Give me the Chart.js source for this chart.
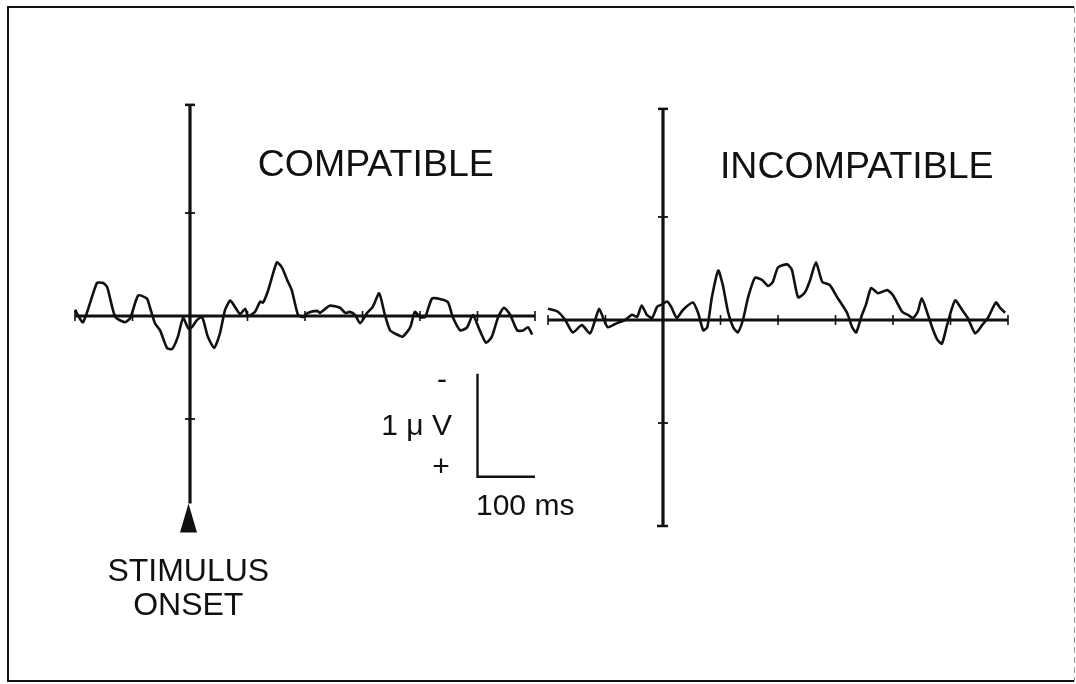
<!DOCTYPE html>
<html>
<head>
<meta charset="utf-8">
<title>ERP: compatible vs incompatible</title>
<script src="https://cdn.jsdelivr.net/npm/chart.js@4.4.1/dist/chart.umd.min.js"></script>
<style>
  html, body { margin: 0; padding: 0; background: #ffffff; }
  #wrap { width: 1076px; height: 684px; position: relative; }
  canvas { display: block; }
</style>
</head>
<body>
<div id="wrap"><canvas id="erp" width="1076" height="684"></canvas></div>
<script>
// Averaged waveforms, time in ms relative to stimulus onset, amplitude in µV (negative plotted up)
const compatibleTimes = [-200, -186, -162, -151, -144, -130, -113, -104, -90, -75, -70, -61, -52, -40, -31, -21, -12, -3, 3, 12, 21, 31, 42, 52, 61, 70, 78, 87, 96, 101, 113, 122, 127, 136, 151, 160, 169, 177, 188, 197, 205, 221, 226, 243, 261, 270, 278, 287, 296, 308, 318, 329, 339, 348, 360, 370, 383, 391, 400, 409, 421, 438, 449, 457, 470, 482, 492, 504, 515, 525, 536, 546, 557, 569, 579, 588, 595];
const compatibleValues = [-0.06, 0.06, -0.32, -0.32, -0.28, 0.01, 0.06, 0.02, -0.20, -0.17, -0.09, 0.07, 0.14, 0.31, 0.32, 0.20, 0.02, 0.12, 0.11, 0.04, 0.01, 0.20, 0.31, 0.17, -0.06, -0.15, -0.09, -0.02, -0.07, 0.00, -0.04, -0.14, -0.13, -0.25, -0.52, -0.47, -0.35, -0.25, -0.01, 0.01, -0.03, -0.05, -0.03, -0.10, -0.08, -0.03, -0.04, -0.01, 0.07, -0.03, -0.09, -0.22, -0.01, 0.14, 0.18, 0.20, 0.11, -0.04, 0.01, 0.01, -0.17, -0.16, -0.13, 0.01, 0.14, 0.11, -0.01, 0.14, 0.26, 0.20, 0.01, -0.08, -0.01, 0.14, 0.14, 0.11, 0.18];

const incompatibleTimes = [-200, -183, -170, -157, -141, -127, -118, -111, -104, -96, -80, -66, -54, -45, -37, -28, -19, -10, -2, 7, 14, 24, 35, 52, 61, 70, 77, 85, 96, 104, 113, 122, 130, 139, 148, 160, 172, 183, 191, 200, 216, 224, 235, 247, 256, 266, 277, 290, 303, 320, 329, 336, 346, 353, 362, 374, 390, 400, 416, 426, 435, 443, 450, 459, 468, 477, 485, 494, 508, 520, 530, 543, 555, 565, 579, 586, 595];
const incompatibleValues = [-0.11, -0.08, 0.00, 0.12, 0.05, 0.13, 0.00, -0.11, -0.02, 0.07, 0.03, 0.00, -0.05, -0.03, -0.14, -0.05, -0.02, -0.13, -0.15, -0.18, -0.13, -0.02, -0.10, -0.17, -0.07, 0.10, 0.07, -0.22, -0.48, -0.34, -0.08, 0.07, 0.12, 0.00, -0.22, -0.41, -0.39, -0.33, -0.37, -0.51, -0.54, -0.49, -0.22, -0.27, -0.39, -0.56, -0.37, -0.34, -0.22, -0.07, 0.07, 0.12, -0.05, -0.15, -0.31, -0.26, -0.29, -0.24, -0.08, -0.05, -0.02, -0.08, -0.21, -0.08, 0.07, 0.19, 0.23, 0.05, -0.19, -0.10, -0.02, 0.13, 0.05, -0.02, -0.17, -0.12, -0.07];

// Epoch and axis extents
const epochStart = -200;
const epochEnd = 600;
const timeTicks = [-100, 100, 200, 300, 400, 500];
const voltTicks = [-1, 1];

// Panel titles and annotation text
const panelTitles = ['COMPATIBLE', 'INCOMPATIBLE'];
const onsetLabel = ['STIMULUS', 'ONSET'];
const scaleBarLabels = { neg: '-', amp: '1 \u03BC V', pos: '+', time: '100 ms' };

const W = 1076, H = 684;
const pxPerMs = 0.575;     // horizontal scale
const pxPerUv = 103;       // vertical scale
const zeroL = 190, zeroR = 663;   // onset positions of the two panels
const baseL = 316, baseR = 320;   // baselines of the two panels

const toPoints = (ts, vs) => ts.map((t, i) => ({ x: t, y: vs[i] }));

const INK = '#111111';
const FONT = '"Liberation Sans", Arial, Helvetica, sans-serif';

const erpAxes = {
  id: 'erpAxes',
  beforeDatasetsDraw(chart) {
    const ctx = chart.ctx;
    const s = chart.scales;
    ctx.save();

    // outer frame
    ctx.strokeStyle = INK;
    ctx.lineWidth = 2;
    ctx.beginPath();
    ctx.moveTo(1074, 7); ctx.lineTo(8, 7); ctx.lineTo(8, 681); ctx.lineTo(1074, 681);
    ctx.stroke();
    ctx.strokeStyle = '#9a9a9a';
    ctx.lineWidth = 1;
    ctx.setLineDash([6, 4]);
    ctx.beginPath(); ctx.moveTo(1074.5, 7); ctx.lineTo(1074.5, 681); ctx.stroke();
    ctx.setLineDash([]);

    const panels = [
      { x: s.xL, y: s.yL, bottom: 1.82, arrow: true },
      { x: s.xR, y: s.yR, bottom: 2.0, arrow: false }
    ];
    panels.forEach(p => {
      const y0 = p.y.getPixelForValue(0);
      const x0 = p.x.getPixelForValue(0);
      ctx.strokeStyle = INK;
      ctx.fillStyle = INK;

      // time axis
      ctx.lineWidth = 2.8;
      ctx.beginPath();
      ctx.moveTo(p.x.getPixelForValue(epochStart), y0);
      ctx.lineTo(p.x.getPixelForValue(epochEnd), y0);
      ctx.stroke();
      ctx.lineWidth = 1.6;
      [epochStart, ...timeTicks, epochEnd].forEach(t => {
        const xt = p.x.getPixelForValue(t);
        ctx.beginPath(); ctx.moveTo(xt, y0 - 5); ctx.lineTo(xt, y0 + 5); ctx.stroke();
      });

      // amplitude axis at stimulus onset
      const yTop = p.y.getPixelForValue(-2.05);
      const yBot = p.y.getPixelForValue(p.bottom);
      ctx.lineWidth = 3.2;
      ctx.beginPath(); ctx.moveTo(x0, yTop); ctx.lineTo(x0, yBot); ctx.stroke();
      ctx.lineWidth = 2.5;
      ctx.beginPath(); ctx.moveTo(x0 - 5, yTop); ctx.lineTo(x0 + 5, yTop); ctx.stroke();
      ctx.lineWidth = 1.8;
      voltTicks.forEach(v => {
        const yv = p.y.getPixelForValue(v);
        ctx.beginPath(); ctx.moveTo(x0 - 5, yv); ctx.lineTo(x0 + 5, yv); ctx.stroke();
      });
      if (p.arrow) {
        ctx.beginPath();
        ctx.moveTo(x0 - 1.5, yBot);
        ctx.lineTo(x0 - 10, yBot + 29);
        ctx.lineTo(x0 + 7, yBot + 29);
        ctx.closePath();
        ctx.fill();
      } else {
        ctx.lineWidth = 2.5;
        ctx.beginPath(); ctx.moveTo(x0 - 6, yBot); ctx.lineTo(x0 + 5, yBot); ctx.stroke();
      }
    });

    // calibration bar: 1 µV by 100 ms
    const bx0 = s.xL.getPixelForValue(500), bx1 = s.xL.getPixelForValue(600);
    const by0 = s.yL.getPixelForValue(0.56), by1 = s.yL.getPixelForValue(1.56);
    ctx.lineWidth = 2.4;
    ctx.beginPath();
    ctx.moveTo(bx0, by0); ctx.lineTo(bx0, by1); ctx.lineTo(bx1, by1);
    ctx.stroke();
    ctx.restore();
  },
  afterDraw(chart) {
    const ctx = chart.ctx;
    const s = chart.scales;
    ctx.save();
    ctx.fillStyle = INK;
    ctx.textBaseline = 'middle';
    ctx.textAlign = 'center';

    ctx.font = '37.5px ' + FONT;
    ctx.fillText(panelTitles[0], s.xL.getPixelForValue(323), 166);
    ctx.fillText(panelTitles[1], s.xR.getPixelForValue(337), 168);

    ctx.font = '32px ' + FONT;
    const xo = s.xL.getPixelForValue(-3);
    ctx.fillText(onsetLabel[0], xo, 572);
    ctx.fillText(onsetLabel[1], xo, 606);

    ctx.font = '30px ' + FONT;
    ctx.textAlign = 'right';
    ctx.fillText(scaleBarLabels.amp, 452, 427);
    ctx.textAlign = 'center';
    ctx.fillText(scaleBarLabels.neg, 442, 381);
    ctx.fillText(scaleBarLabels.pos, 441, 468);
    ctx.textAlign = 'left';
    ctx.fillText(scaleBarLabels.time, 476, 507);
    ctx.restore();
  }
};

new Chart(document.getElementById('erp'), {
  type: 'line',
  data: {
    datasets: [
      {
        label: panelTitles[0],
        data: toPoints(compatibleTimes, compatibleValues),
        xAxisID: 'xL', yAxisID: 'yL',
        borderColor: INK, borderWidth: 2.6, pointRadius: 0, tension: 0.2, fill: false
      },
      {
        label: panelTitles[1],
        data: toPoints(incompatibleTimes, incompatibleValues),
        xAxisID: 'xR', yAxisID: 'yR',
        borderColor: INK, borderWidth: 2.6, pointRadius: 0, tension: 0.2, fill: false
      }
    ]
  },
  options: {
    responsive: false,
    animation: false,
    layout: { padding: 0 },
    plugins: { legend: { display: false }, tooltip: { enabled: false } },
    scales: {
      xL: { type: 'linear', display: false, min: -zeroL / pxPerMs, max: (W - zeroL) / pxPerMs },
      xR: { type: 'linear', display: false, min: -zeroR / pxPerMs, max: (W - zeroR) / pxPerMs },
      yL: { type: 'linear', display: false, reverse: true, min: -baseL / pxPerUv, max: (H - baseL) / pxPerUv },
      yR: { type: 'linear', display: false, reverse: true, min: -baseR / pxPerUv, max: (H - baseR) / pxPerUv }
    }
  },
  plugins: [erpAxes]
});
</script>
</body>
</html>
